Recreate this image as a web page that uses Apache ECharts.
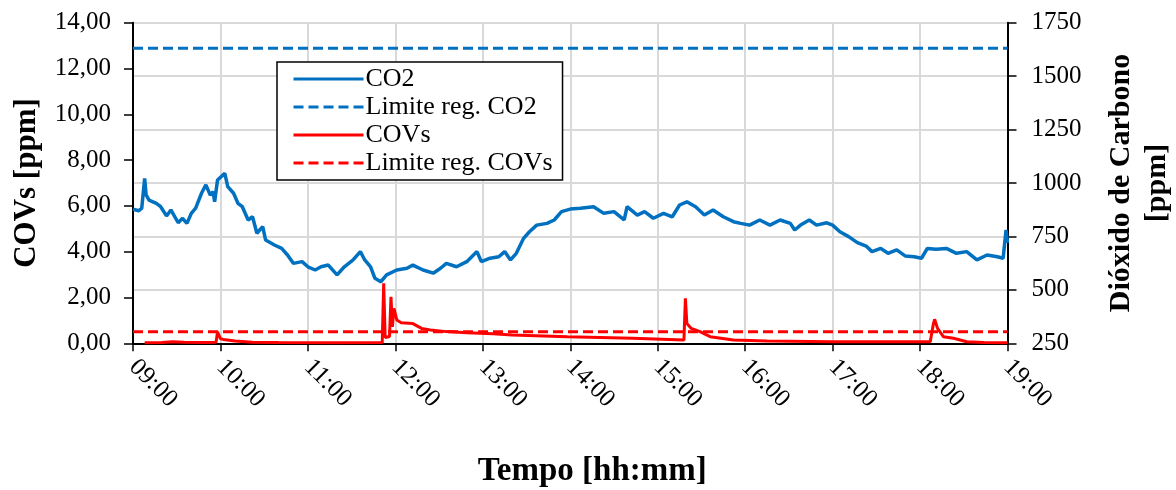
<!DOCTYPE html>
<html>
<head>
<meta charset="utf-8">
<script src="https://cdn.jsdelivr.net/npm/echarts@6/dist/echarts.min.js"></script>
<style>
  html, body { margin: 0; padding: 0; background: #fff; }
  #chart { width: 1176px; height: 490px; }
</style>
</head>
<body>
<div id="chart"></div>
<script>
// 时间轴 09:00 - 19:00
const xTicks = ['09:00', '10:00', '11:00', '12:00', '13:00', '14:00', '15:00', '16:00', '17:00', '18:00', '19:00'];

// CO2 [ppm] (eixo direito)
const co2Times = ['09:00','09:04','09:06','09:08','09:09','09:11','09:16','09:19','09:23','09:26','09:31','09:34','09:37','09:40','09:43','09:47','09:50','09:53','09:55','09:56','09:58',
  '10:03','10:05','10:09','10:12','10:15','10:19','10:22','10:25','10:29','10:31','10:37','10:42','10:46','10:50','10:56',
  '11:00','11:05','11:09','11:14','11:20','11:25','11:31','11:36','11:39','11:43','11:46','11:50','11:54',
  '12:01','12:08','12:12','12:19','12:26','12:31','12:35','12:42','12:49','12:56','12:59',
  '13:05','13:11','13:15','13:19','13:23','13:28','13:32','13:37','13:44','13:49','13:54',
  '14:00','14:07','14:16','14:23','14:30','14:37','14:39','14:46','14:51','14:57',
  '15:04','15:10','15:15','15:20','15:26','15:32','15:38','15:45','15:52','15:57',
  '16:03','16:10','16:17','16:24','16:31','16:34','16:38','16:44','16:49','16:56',
  '17:00','17:05','17:11','17:17','17:23','17:27','17:33','17:38','17:44','17:50','17:56',
  '18:01','18:05','18:11','18:18','18:25','18:32','18:39','18:46','18:53','18:57','18:59','19:00'];
const co2Values = [877,870,882,1022,944,920,905,889,846,874,814,835,811,858,882,952,991,944,959,912,1014,
  1045,983,952,905,889,827,842,765,796,733,710,694,663,624,632,
  608,593,608,616,570,608,640,679,640,608,554,538,570,
  593,601,616,593,578,601,624,608,632,679,632,
  648,655,679,640,671,741,772,803,811,827,866,
  878,882,889,858,866,827,889,850,866,835,
  858,842,897,912,889,850,874,842,819,811,
  803,827,803,827,811,780,803,827,803,814,
  803,772,749,721,705,679,694,671,687,658,655,
  648,694,690,694,671,679,640,663,655,648,780,720];

// Limite regulamentar CO2
const co2LimitTimes = ['09:00', '19:00'];
const co2LimitValues = [1630, 1630];

// COVs [ppm] (eixo esquerdo)
const covTimes = ['09:08','09:20','09:27','09:35','09:50','09:57','09:58','10:00','10:02','10:10','10:22','10:40',
  '11:20','11:51','11:52','11:53','11:56','11:57','11:58','11:59','12:01','12:04','12:12','12:18','12:24','12:35','12:49',
  '13:07','13:20','13:58','14:43','15:18','15:19','15:20','15:23','15:29','15:36','15:52',
  '16:15','17:00','18:07','18:09','18:10','18:12','18:16','18:23','18:32','18:44','19:00'];
const covValues = [0.02,0.04,0.07,0.05,0.03,0.05,0.50,0.20,0.17,0.10,0.05,0.03,
  0.02,0.03,2.62,0.25,0.30,2.03,0.72,1.53,1.02,0.90,0.86,0.65,0.58,0.51,0.46,
  0.42,0.36,0.29,0.22,0.14,1.96,0.87,0.65,0.51,0.29,0.14,
  0.10,0.07,0.07,0.80,1.05,0.65,0.29,0.22,0.07,0.03,0.02];

// Limite regulamentar COVs
const covLimitTimes = ['09:00', '19:00'];
const covLimitValues = [0.5, 0.5];

// "HH:MM" -> minutos desde 09:00
function toMin(t) {
  const p = t.split(':');
  return (parseInt(p[0], 10) - 9) * 60 + parseInt(p[1], 10);
}
function pairs(times, values) {
  return times.map((t, i) => [toMin(t), values[i]]);
}

const FONT = "'Liberation Serif', 'Times New Roman', serif";
const BLUE = '#0070C0';
const RED = '#FF0000';

const chart = echarts.init(document.getElementById('chart'));

const option = {
  backgroundColor: '#fff',
  animation: false,
  textStyle: { fontFamily: FONT, color: '#000' },
  grid: { left: 133, right: 168.5, top: 22.7, bottom: 146.7, containLabel: false, outerBoundsMode: 'none' },
  legend: {
    orient: 'vertical',
    left: 277,
    top: 62,
    padding: [4, 10, 4, 15],
    itemGap: 2,
    itemWidth: 70,
    itemHeight: 14,
    backgroundColor: '#fff',
    borderColor: '#000',
    borderWidth: 1.5,
    borderRadius: 0,
    itemStyle: { opacity: 0 },
    lineStyle: { width: 3 },
    textStyle: { fontFamily: FONT, fontSize: 26, color: '#000', lineHeight: 24, padding: [0, 0, 0, -3] },
    data: ['CO2', 'Limite reg. CO2', 'COVs', 'Limite reg. COVs']
  },
  xAxis: {
    type: 'value',
    min: 0,
    max: 600,
    interval: 60,
    name: 'Tempo [hh:mm]',
    nameLocation: 'middle',
    nameGap: 112,
    nameTextStyle: { fontFamily: FONT, fontSize: 33, fontWeight: 'bold', color: '#000', padding: [0, 0, 0, 44] },
    axisLine: { lineStyle: { color: '#000', width: 2 } },
    axisTick: { show: true, length: 8, inside: false, lineStyle: { color: '#000', width: 1.5 } },
    axisLabel: {
      rotate: -45,
      margin: 20,
      fontFamily: FONT,
      fontSize: 25,
      color: '#000',
      formatter: v => xTicks[Math.round(v / 60)]
    },
    splitLine: { show: true, lineStyle: { color: '#d9d9d9', width: 2 } }
  },
  yAxis: [
    {
      type: 'value',
      min: 0,
      max: 14,
      interval: 2,
      position: 'left',
      name: 'COVs [ppm]',
      nameLocation: 'middle',
      nameRotate: 90,
      nameGap: 91,
      nameTextStyle: { fontFamily: FONT, fontSize: 31, fontWeight: 'bold', color: '#000' },
      axisLine: { show: true, lineStyle: { color: '#000', width: 2 } },
      axisTick: { show: true, length: 9, lineStyle: { color: '#000', width: 1.5 } },
      axisLabel: {
        margin: 22,
        fontFamily: FONT,
        fontSize: 25,
        color: '#000',
        formatter: v => v.toFixed(2).replace('.', ',')
      },
      splitLine: { show: false }
    },
    {
      type: 'value',
      min: 250,
      max: 1750,
      interval: 250,
      position: 'right',
      name: 'Dióxido de Carbono\n[ppm]',
      nameLocation: 'middle',
      nameRotate: 90,
      nameGap: 96,
      nameTextStyle: { fontFamily: FONT, fontSize: 30, fontWeight: 'bold', color: '#000', lineHeight: 36, align: 'center' },
      axisLine: { show: true, lineStyle: { color: '#000', width: 2 } },
      axisTick: { show: true, length: 9, lineStyle: { color: '#000', width: 1.5 } },
      axisLabel: { margin: 24, fontFamily: FONT, fontSize: 25, color: '#000', formatter: v => String(v) },
      splitLine: { show: true, lineStyle: { color: '#d9d9d9', width: 2 } }
    }
  ],
  series: [
    {
      name: 'CO2',
      type: 'line',
      yAxisIndex: 1,
      symbol: 'none',
      data: pairs(co2Times, co2Values),
      lineStyle: { color: BLUE, width: 3.5 },
      itemStyle: { color: BLUE },
      z: 3
    },
    {
      name: 'Limite reg. CO2',
      type: 'line',
      yAxisIndex: 1,
      symbol: 'none',
      data: pairs(co2LimitTimes, co2LimitValues),
      lineStyle: { color: BLUE, width: 3, type: [10, 5] },
      itemStyle: { color: BLUE },
      z: 2
    },
    {
      name: 'COVs',
      type: 'line',
      yAxisIndex: 0,
      symbol: 'none',
      data: pairs(covTimes, covValues),
      lineStyle: { color: RED, width: 3 },
      itemStyle: { color: RED },
      z: 4
    },
    {
      name: 'Limite reg. COVs',
      type: 'line',
      yAxisIndex: 0,
      symbol: 'none',
      data: pairs(covLimitTimes, covLimitValues),
      lineStyle: { color: RED, width: 3, type: [10, 5] },
      itemStyle: { color: RED },
      z: 2
    }
  ]
};

chart.setOption(option);
window.addEventListener('resize', () => chart.resize());
</script>
</body>
</html>
